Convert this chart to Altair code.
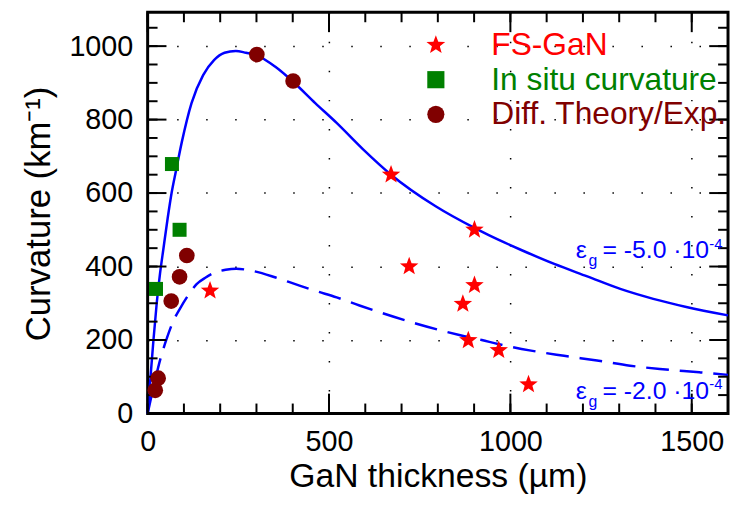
import altair as alt
import pandas as pd

# ---------------- data ----------------
# theoretical curves (GaN thickness in um, curvature in 1/km)
solid_x = [0, 8, 16, 25, 34, 43, 55, 66, 78, 94, 121, 153, 183, 212, 243, 271, 301,
           353, 401, 462, 521, 594, 671, 794, 901, 939, 1030, 1121, 1212, 1303, 1394, 1485, 1600]
solid_y = [0, 100, 200, 300, 380, 445, 530, 600, 660, 738, 845, 921, 962, 982, 987, 982, 975,
           943, 903, 845, 791, 719, 650, 564, 505, 486, 445, 407, 373, 339, 312, 290, 267]

dashed_x = [0, 18, 35, 53, 71, 90, 112, 135, 160, 184, 215, 244, 289, 353, 407, 462, 521,
            584, 739, 862, 921, 966, 1057, 1148, 1239, 1330, 1412, 1521, 1600]
dashed_y = [0, 80, 148, 205, 252, 287, 322, 352, 370, 383, 391, 394, 388, 370, 352, 334, 316,
            294, 245, 213, 200, 189, 171, 157, 144, 130, 121, 112, 105]

# measured points
fs_x = [172, 671, 901, 721, 901, 869, 884, 968, 1050]
fs_y = [334, 650, 500, 400, 349, 298, 199, 172, 79]
insitu_x = [23, 67, 88]
insitu_y = [339, 679, 500]
diff_x = [21, 29, 65, 88, 108, 301, 401]
diff_y = [63, 96, 306, 372, 430, 977, 905]

series_names = ["FS-GaN", "In situ curvature", "Diff. Theory/Exp."]
series_colors = ["#ff0000", "#008000", "#800000"]

# axis tick values
x_major = [0, 500, 1000, 1500]
x_minor = list(range(0, 1601, 100))
y_major = [0, 200, 400, 600, 800, 1000]
y_minor = list(range(0, 1051, 50))

# strain annotations (anchor in data units)
eps_x = [1180, 1180]
eps_y = [422, 40]
eps_value = ["-5.0", "-2.0"]

# ---------------- styling ----------------
FONT = "Liberation Sans"
BLUE = "#0000ff"
STAR = ("M0,-1.15L0.284,-0.391L1.094,-0.355L0.459,0.15L0.676,0.93L0,0.483"
        "L-0.676,0.93L-0.459,0.15L-1.094,-0.355L-0.284,-0.391Z")

W, H = 586, 405
X_MAX, Y_MAX = 1600, 1092
xs = alt.Scale(domain=[0, X_MAX], nice=False, zero=False)
ys = alt.Scale(domain=[0, Y_MAX], nice=False, zero=False)
XU = X_MAX / W   # data units per pixel
YU = Y_MAX / H
MAJOR_LEN, MINOR_LEN = 20, 10   # inward tick lengths in pixels

grid_kw = dict(grid=True, gridColor="black", gridDash=[1.5, 27.8], gridWidth=1.5, gridOpacity=1)

x_main_axis = alt.Axis(orient="bottom", values=x_major, ticks=False, domain=False, format="d",
                       labelFont=FONT, labelFontSize=29, labelColor="black", labelPadding=14,
                       labelFlush=False, title="GaN thickness (µm)", titleFont=FONT,
                       titleFontSize=34, titleFontWeight="normal", titleColor="black",
                       titleX=293, titleY=74, titleBaseline="alphabetic", titleAlign="center",
                       **grid_kw)
y_main_axis = alt.Axis(orient="left", values=y_major, ticks=False, domain=False, format="d",
                       labelFont=FONT, labelFontSize=29, labelColor="black", labelPadding=15,
                       labelFlush=False, title="Curvature (km⁻¹)", titleFont=FONT,
                       titleFontSize=35, titleFontWeight="normal", titleColor="black",
                       titleX=-99, titleY=203, titleBaseline="alphabetic", titleAlign="center",
                       **grid_kw)

label_color_expr = (f"datum.label === '{series_names[0]}' ? '{series_colors[0]}' : "
                    f"(datum.label === '{series_names[1]}' ? '{series_colors[1]}' : '{series_colors[2]}')")

legend = alt.Legend(orient="none", legendX=275, legendY=17, title=None, direction="vertical",
                    labelFont=FONT, labelFontSize=32,
                    labelColor=alt.ExprRef(expr=label_color_expr), labelLimit=500,
                    symbolSize=300, symbolStrokeWidth=0, symbolOpacity=1,
                    labelOffset=40, rowPadding=3, padding=0)
color_enc = alt.Color("series:N", scale=alt.Scale(domain=series_names, range=series_colors),
                      legend=legend)
shape_enc = alt.Shape("series:N", scale=alt.Scale(domain=series_names,
                                                   range=[STAR, "square", "circle"]),
                      legend=legend)

# the other layers share the one axis defined on the first layer
XS = dict(scale=xs)
YS = dict(scale=ys)

# ---------------- layers ----------------
solid_df = pd.DataFrame({"x": solid_x, "y": solid_y})
dashed_df = pd.DataFrame({"x": dashed_x, "y": dashed_y})

solid = alt.Chart(solid_df).mark_line(color=BLUE, strokeWidth=2.5, interpolate="monotone").encode(
    x=alt.X("x:Q", scale=xs, axis=x_main_axis),
    y=alt.Y("y:Q", scale=ys, axis=y_main_axis),
)
dashed = alt.Chart(dashed_df).mark_line(color=BLUE, strokeWidth=2.5, strokeDash=[23, 11],
                                        interpolate="monotone").encode(
    x=alt.X("x:Q", **XS), y=alt.Y("y:Q", **YS),
)

# inward ticks on all four sides of the frame
xt_df = pd.DataFrame({"v": x_minor + x_major,
                      "len": [MINOR_LEN] * len(x_minor) + [MAJOR_LEN] * len(x_major)})
yt_df = pd.DataFrame({"v": y_minor + y_major,
                      "len": [MINOR_LEN] * len(y_minor) + [MAJOR_LEN - 1] * len(y_major)})

tick_style = dict(color="black", strokeWidth=2)
ticks_bottom = alt.Chart(xt_df).mark_rule(**tick_style).transform_calculate(
    a="0", b=f"datum.len * {YU}").encode(
    x=alt.X("v:Q", **XS), y=alt.Y("a:Q", **YS), y2="b:Q")
ticks_top = alt.Chart(xt_df).mark_rule(**tick_style).transform_calculate(
    a=f"{Y_MAX}", b=f"{Y_MAX} - datum.len * {YU}").encode(
    x=alt.X("v:Q", **XS), y=alt.Y("a:Q", **YS), y2="b:Q")
ticks_left = alt.Chart(yt_df).mark_rule(**tick_style).transform_calculate(
    a="0", b=f"datum.len * {XU}").encode(
    y=alt.Y("v:Q", **YS), x=alt.X("a:Q", **XS), x2="b:Q")
ticks_right = alt.Chart(yt_df).mark_rule(**tick_style).transform_calculate(
    a=f"{X_MAX}", b=f"{X_MAX} - datum.len * {XU}").encode(
    y=alt.Y("v:Q", **YS), x=alt.X("a:Q", **XS), x2="b:Q")

fs_df = pd.DataFrame({"x": fs_x, "y": fs_y, "series": series_names[0]})
insitu_df = pd.DataFrame({"x": insitu_x, "y": insitu_y, "series": series_names[1]})
diff_df = pd.DataFrame({"x": diff_x, "y": diff_y, "series": series_names[2]})

squares = alt.Chart(insitu_df).mark_point(filled=True, opacity=1, size=200, strokeWidth=0).encode(
    x=alt.X("x:Q", **XS), y=alt.Y("y:Q", **YS), color=color_enc, shape=shape_enc)
circles = alt.Chart(diff_df).mark_point(filled=True, opacity=1, size=250, strokeWidth=0).encode(
    x=alt.X("x:Q", **XS), y=alt.Y("y:Q", **YS), color=color_enc, shape=shape_enc)
stars = alt.Chart(fs_df).mark_point(filled=True, opacity=1, size=290, strokeWidth=0).encode(
    x=alt.X("x:Q", **XS), y=alt.Y("y:Q", **YS), color=color_enc, shape=shape_enc)

ann_df = pd.DataFrame({"x": eps_x, "y": eps_y, "v": eps_value})
ann_df["eps"] = "ε"
ann_df["sub"] = "g"
ann_df["main"] = "= " + ann_df["v"] + " ·10"
ann_df["sup"] = "-4"

ann_base = alt.Chart(ann_df).encode(x=alt.X("x:Q", **XS), y=alt.Y("y:Q", **YS))
t_eps = ann_base.mark_text(align="left", baseline="alphabetic", font=FONT, fontSize=25,
                           color=BLUE).encode(text="eps:N")
t_sub = ann_base.mark_text(align="left", baseline="alphabetic", font=FONT, fontSize=16,
                           color=BLUE, dx=13, dy=8).encode(text="sub:N")
t_main = ann_base.mark_text(align="left", baseline="alphabetic", font=FONT, fontSize=25,
                            color=BLUE, dx=27).encode(text="main:N")
t_sup = ann_base.mark_text(align="left", baseline="alphabetic", font=FONT, fontSize=15,
                           color=BLUE, dx=135, dy=-10).encode(text="sup:N")

chart = alt.layer(
    solid, dashed, ticks_bottom, ticks_top, ticks_left, ticks_right,
    stars, squares, circles, t_eps, t_sub, t_main, t_sup
).properties(
    width=W, height=H,
    autosize=alt.AutoSizeParams(type="none"),
    padding={"left": 141, "top": 2, "right": 2, "bottom": 84},
).configure(
    font=FONT
).configure_view(
    stroke="black", strokeWidth=3
)

chart.save("out.html", embed_options={"renderer": "svg", "actions": False})
